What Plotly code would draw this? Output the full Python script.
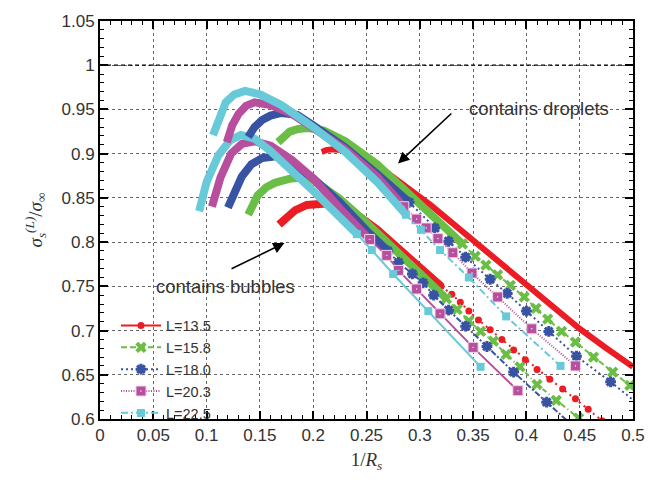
import plotly.graph_objects as go

# ---------------- data ----------------
LABELS = ["L=13.5", "L=15.8", "L=18.0", "L=20.3", "L=22.5"]

# "contains droplets" branch (upper family): x = 1/R_s, y = sigma_s/sigma_inf
DROP_135_X = [0.208, 0.212, 0.218, 0.226, 0.235, 0.25, 0.27, 0.29, 0.31, 0.33, 0.35, 0.375, 0.4, 0.425, 0.45, 0.475, 0.5]
DROP_135_Y = [0.902, 0.904, 0.905, 0.904, 0.901, 0.893, 0.878, 0.861, 0.842, 0.822, 0.802, 0.776, 0.751, 0.726, 0.702, 0.680, 0.659]

DROP_158_X = [0.167, 0.172, 0.178, 0.186, 0.195, 0.21, 0.23, 0.26, 0.29, 0.32, 0.34,
              0.352, 0.362, 0.373, 0.385, 0.398, 0.409, 0.42, 0.433, 0.446, 0.463, 0.481, 0.497, 0.515]
DROP_158_Y = [0.913, 0.920, 0.925, 0.928, 0.929, 0.926, 0.914, 0.888, 0.855, 0.821, 0.798,
              0.784, 0.774, 0.763, 0.751, 0.738, 0.725, 0.713, 0.699, 0.687, 0.670, 0.653, 0.638, 0.622]

DROP_180_X = [0.139, 0.145, 0.152, 0.16, 0.17, 0.185, 0.2, 0.23, 0.26, 0.29,
              0.314, 0.327, 0.343, 0.366, 0.382, 0.40, 0.421, 0.447, 0.479, 0.514]
DROP_180_Y = [0.919, 0.930, 0.938, 0.943, 0.946, 0.944, 0.932, 0.907, 0.877, 0.845,
              0.816, 0.801, 0.783, 0.758, 0.742, 0.722, 0.699, 0.671, 0.642, 0.608]

DROP_203_X = [0.119, 0.124, 0.13, 0.137, 0.145, 0.16, 0.18, 0.2, 0.23, 0.26, 0.285,
              0.297, 0.306, 0.317, 0.331, 0.349, 0.373, 0.405, 0.446]
DROP_203_Y = [0.913, 0.932, 0.945, 0.954, 0.958, 0.955, 0.945, 0.930, 0.905, 0.874, 0.840,
              0.826, 0.816, 0.804, 0.788, 0.765, 0.738, 0.702, 0.660]

DROP_225_X = [0.106, 0.112, 0.118, 0.126, 0.136, 0.15, 0.17, 0.2, 0.23, 0.26, 0.287,
              0.301, 0.319, 0.346, 0.381, 0.432]
DROP_225_Y = [0.921, 0.942, 0.958, 0.967, 0.971, 0.967, 0.955, 0.930, 0.902, 0.868, 0.831,
              0.814, 0.791, 0.760, 0.716, 0.660]

# "contains bubbles" branch (lower family)
BUB_135_X = [0.168, 0.175, 0.183, 0.194, 0.206, 0.215, 0.225, 0.24, 0.26, 0.28, 0.3, 0.32,
             0.33, 0.338, 0.346, 0.355, 0.366, 0.377, 0.388, 0.399, 0.41, 0.422, 0.434, 0.446, 0.458, 0.471]
BUB_135_Y = [0.820, 0.829, 0.836, 0.842, 0.844, 0.844, 0.841, 0.832, 0.814, 0.792, 0.770, 0.750,
             0.741, 0.732, 0.722, 0.712, 0.701, 0.690, 0.678, 0.667, 0.656, 0.645, 0.634, 0.623, 0.611, 0.598]

BUB_158_X = [0.139, 0.148, 0.156, 0.164, 0.179, 0.192, 0.2, 0.225, 0.25, 0.275, 0.3, 0.325,
             0.335, 0.346, 0.357, 0.369, 0.381, 0.394, 0.41, 0.428, 0.449]
BUB_158_Y = [0.831, 0.853, 0.862, 0.867, 0.872, 0.873, 0.870, 0.849, 0.822, 0.794, 0.765, 0.736,
             0.724, 0.711, 0.699, 0.688, 0.673, 0.659, 0.639, 0.621, 0.601]

BUB_180_X = [0.12, 0.126, 0.133, 0.142, 0.152, 0.165, 0.18, 0.2, 0.225, 0.25, 0.27,
             0.28, 0.293, 0.303, 0.313, 0.327, 0.343, 0.363, 0.388, 0.419, 0.455]
BUB_180_Y = [0.839, 0.858, 0.874, 0.888, 0.895, 0.897, 0.890, 0.872, 0.845, 0.813, 0.790,
             0.777, 0.764, 0.754, 0.740, 0.723, 0.705, 0.682, 0.653, 0.619, 0.580]

BUB_203_X = [0.105, 0.113, 0.123, 0.133, 0.145, 0.16, 0.18, 0.2, 0.225, 0.253,
             0.269, 0.28, 0.297, 0.319, 0.35, 0.392]
BUB_203_Y = [0.840, 0.873, 0.900, 0.911, 0.914, 0.909, 0.893, 0.872, 0.838, 0.803,
             0.785, 0.768, 0.747, 0.719, 0.681, 0.632]

BUB_225_X = [0.093, 0.1, 0.111, 0.122, 0.132, 0.145, 0.16, 0.18, 0.2, 0.22, 0.241,
             0.255, 0.275, 0.308, 0.357]
BUB_225_Y = [0.835, 0.868, 0.898, 0.915, 0.921, 0.917, 0.903, 0.882, 0.858, 0.834, 0.809,
             0.791, 0.764, 0.722, 0.659]

REF_LEVEL = 1.0
X_TICKS = [0, 0.05, 0.1, 0.15, 0.2, 0.25, 0.3, 0.35, 0.4, 0.45, 0.5]
X_TICK_TEXT = ["0", "0.05", "0.1", "0.15", "0.2", "0.25", "0.3", "0.35", "0.4", "0.45", "0.5"]
Y_TICKS = [0.6, 0.65, 0.7, 0.75, 0.8, 0.85, 0.9, 0.95, 1.0, 1.05]
Y_TICK_TEXT = ["0.6", "0.65", "0.7", "0.75", "0.8", "0.85", "0.9", "0.95", "1", "1.05"]

# ---------------- styles ----------------
COLORS = ["#ec1c24", "#6abd45", "#3953a4", "#b84f9e", "#68c9d9"]
MARKERS = [
    dict(symbol="circle", size=7),
    dict(symbol="x", size=10),
    dict(symbol="asterisk", size=9),
    dict(symbol="square-dot", size=10),
    dict(symbol="square", size=8),
]
DROP_DASH = ["solid", "6px,3px", "2px,3px", "1px,1.5px", "7px,3px,2px,3px"]
BUB_DASH = ["2px,4px", "5px,3px,1px,3px", "6px,2px,2px,2px", "solid", "solid"]
# index where the markers separate (points before it form a dense band)
DROP_SPLIT = [17, 11, 10, 11, 11]
BUB_SPLIT = [12, 12, 11, 10, 11]

drop_x = [DROP_135_X, DROP_158_X, DROP_180_X, DROP_203_X, DROP_225_X]
drop_y = [DROP_135_Y, DROP_158_Y, DROP_180_Y, DROP_203_Y, DROP_225_Y]
bub_x = [BUB_135_X, BUB_158_X, BUB_180_X, BUB_203_X, BUB_225_X]
bub_y = [BUB_135_Y, BUB_158_Y, BUB_180_Y, BUB_203_Y, BUB_225_Y]

fig = go.Figure()


def marker_style(i):
    m = dict(MARKERS[i])
    m["color"] = COLORS[i]
    if m["symbol"] == "asterisk":
        m["line"] = dict(color=COLORS[i], width=3)
    elif m["symbol"] == "square-dot":
        m["line"] = dict(color="#efd2e8", width=1)
    else:
        m["line"] = dict(color=COLORS[i], width=0)
    return m


def add_curve(xs, ys, i, split, dash):
    # dense part (overlapping symbols) drawn as a thick band
    band_w = 6 if (i == 0 and split >= len(xs)) else 8
    fig.add_trace(go.Scatter(x=xs[:split], y=ys[:split], mode="lines",
                             line=dict(color=COLORS[i], width=band_w),
                             showlegend=False, hoverinfo="skip"))
    if split < len(xs):
        fig.add_trace(go.Scatter(x=xs[split - 1:], y=ys[split - 1:], mode="lines+markers",
                                 line=dict(color=COLORS[i], width=2, dash=dash),
                                 marker=marker_style(i),
                                 showlegend=False, hoverinfo="skip"))


for i in range(5):
    add_curve(bub_x[i], bub_y[i], i, BUB_SPLIT[i], BUB_DASH[i])
for i in range(5):
    add_curve(drop_x[i], drop_y[i], i, DROP_SPLIT[i], DROP_DASH[i])

# legend entries
for i in range(5):
    fig.add_trace(go.Scatter(x=[None], y=[None], mode="lines+markers", name=LABELS[i],
                             line=dict(color=COLORS[i], width=2, dash=DROP_DASH[i]),
                             marker=marker_style(i)))

fig.add_hline(y=REF_LEVEL, line=dict(color="black", width=1.2, dash="4px,3px"))

TXT = dict(family="Liberation Sans, Arial, sans-serif", size=18.5, color="#333333")
fig.add_annotation(x=0.412, y=0.951, text="contains droplets", showarrow=False, font=TXT)
fig.add_annotation(x=0.2796, y=0.889, ax=0.331, ay=0.947, axref="x", ayref="y",
                   text="", showarrow=True, arrowhead=2, arrowsize=1.4, arrowwidth=1.6,
                   arrowcolor="black")
fig.add_annotation(x=0.118, y=0.750, text="contains bubbles", showarrow=False, font=TXT)
fig.add_annotation(x=0.173, y=0.799, ax=0.122, ay=0.769, axref="x", ayref="y",
                   text="", showarrow=True, arrowhead=2, arrowsize=1.4, arrowwidth=1.6,
                   arrowcolor="black")

axis_common = dict(
    showline=True, linecolor="black", linewidth=2, mirror="ticks",
    ticks="inside", ticklen=8, tickwidth=1.5, tickcolor="black",
    showgrid=True, gridcolor="#666666", griddash="dot", gridwidth=1,
    zeroline=False,
    tickfont=dict(family="Liberation Sans, Arial, sans-serif", size=17, color="#333333"),
    minor=dict(dtick=0.01, ticks="inside", ticklen=4, tickwidth=1, tickcolor="black", showgrid=False),
)

fig.update_xaxes(range=[0, 0.5], tickvals=X_TICKS, ticktext=X_TICK_TEXT,
                 title=dict(text="1/<i>R<sub>s</sub></i>", standoff=8,
                            font=dict(family="Liberation Serif, DejaVu Serif, serif", size=19, color="#333333")),
                 **axis_common)
fig.update_yaxes(range=[0.6, 1.05], tickvals=Y_TICKS, ticktext=Y_TICK_TEXT,
                 title=dict(text="<i>σ<sub>s</sub><sup>(L)</sup></i>/<i>σ</i><sub>∞</sub>", standoff=14,
                            font=dict(family="Liberation Serif, DejaVu Serif, serif", size=19, color="#333333")),
                 **axis_common)

fig.update_layout(
    width=657, height=479,
    margin=dict(l=100, r=17, t=21, b=58),
    plot_bgcolor="white", paper_bgcolor="white",
    legend=dict(x=0.03, y=0.275, xanchor="left", yanchor="top",
                bgcolor="rgba(0,0,0,0)", borderwidth=0,
                font=dict(family="Liberation Sans, Arial, sans-serif", size=14.5, color="#333333"),
                itemwidth=40, tracegroupgap=0),
)

fig.write_html("out.html")
